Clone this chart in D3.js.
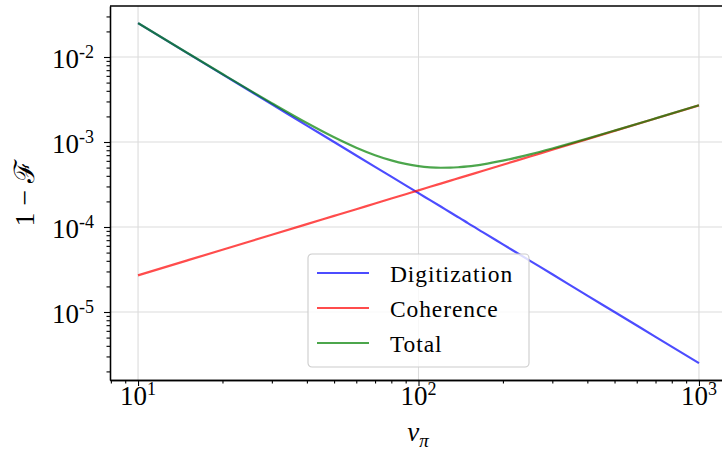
<!DOCTYPE html>
<html>
<head>
<meta charset="utf-8">
<script src="https://cdn.jsdelivr.net/npm/d3@7"></script>
<style>
  body { margin: 0; background: #fff; }
  svg { display: block; font-family: "Liberation Serif", "DejaVu Serif", serif; }
</style>
</head>
<body>
<div id="chart"></div>
<script>
// values (log-log)
var nu = [10, 15, 20, 30, 40, 50, 60, 70, 80, 90, 100, 110, 120, 130, 140, 150, 170, 200, 250, 300, 400, 500, 700, 1000];
var digitization = [2.5e-2, 1.11e-2, 6.25e-3, 2.78e-3, 1.56e-3, 1.0e-3, 6.94e-4, 5.10e-4, 3.91e-4, 3.09e-4, 2.5e-4, 2.07e-4, 1.74e-4, 1.48e-4, 1.28e-4, 1.11e-4, 8.65e-5, 6.25e-5, 4.0e-5, 2.78e-5, 1.56e-5, 1.0e-5, 5.10e-6, 2.5e-6];
var coherence = [2.7e-5, 4.05e-5, 5.4e-5, 8.1e-5, 1.08e-4, 1.35e-4, 1.62e-4, 1.89e-4, 2.16e-4, 2.43e-4, 2.7e-4, 2.97e-4, 3.24e-4, 3.51e-4, 3.78e-4, 4.05e-4, 4.59e-4, 5.4e-4, 6.75e-4, 8.1e-4, 1.08e-3, 1.35e-3, 1.89e-3, 2.7e-3];
var total = [2.503e-2, 1.114e-2, 6.30e-3, 2.86e-3, 1.67e-3, 1.135e-3, 8.56e-4, 6.99e-4, 6.07e-4, 5.52e-4, 5.20e-4, 5.04e-4, 4.98e-4, 4.99e-4, 5.06e-4, 5.16e-4, 5.46e-4, 6.03e-4, 7.15e-4, 8.38e-4, 1.096e-3, 1.36e-3, 1.895e-3, 2.7025e-3];

var seriesNames = ['Digitization', 'Coherence', 'Total'];
var seriesColors = ['rgba(0,0,255,0.7)', 'rgba(255,0,0,0.7)', 'rgba(0,128,0,0.7)'];

var xMajor = [1, 2, 3];     // exponents
var yMajor = [-5, -4, -3, -2];

(function () {
  var width = 722, height = 451;
  var mLeft = 110, mTop = 6, mBottom = 380, mRight = 727;

  var x = d3.scaleLog().domain([Math.pow(10, 0.9), Math.pow(10, 3.1)]).range([mLeft, mRight]);
  var y = d3.scaleLog().domain([Math.pow(10, -5.8), Math.pow(10, -1.4)]).range([mBottom, mTop]);

  var svg = d3.select('#chart').append('svg').attr('width', width).attr('height', height);

  svg.append('defs').append('clipPath').attr('id', 'plot')
    .append('rect').attr('x', mLeft).attr('y', mTop).attr('width', mRight - mLeft).attr('height', mBottom - mTop);

  // grid
  var grid = svg.append('g');
  xMajor.forEach(function (e) {
    var px = x(Math.pow(10, e));
    grid.append('line').attr('x1', px).attr('x2', px).attr('y1', mTop).attr('y2', mBottom)
      .attr('stroke', '#dcdcdc').attr('stroke-width', 1.1);
  });
  yMajor.forEach(function (e) {
    var py = y(Math.pow(10, e));
    grid.append('line').attr('x1', mLeft).attr('x2', mRight).attr('y1', py).attr('y2', py)
      .attr('stroke', '#dcdcdc').attr('stroke-width', 1.1);
  });

  // lines
  var data = [digitization, coherence, total];
  var line = d3.line()
    .x(function (d, i) { return x(nu[i]); })
    .y(function (d) { return y(d); })
    .curve(d3.curveMonotoneX);

  svg.append('g').attr('clip-path', 'url(#plot)').selectAll('path').data(data).enter().append('path')
    .attr('d', line)
    .attr('fill', 'none')
    .attr('stroke', function (d, i) { return seriesColors[i]; })
    .attr('stroke-width', 2.2);

  // minor tick values
  var xMinor = [], yMinor = [];
  for (var e = 0; e <= 3; e++) {
    for (var k = 2; k <= 9; k++) {
      var v = k * Math.pow(10, e);
      if (v >= x.domain()[0] && v <= x.domain()[1]) xMinor.push(v);
    }
  }
  for (var e2 = -6; e2 <= -2; e2++) {
    for (var k2 = 2; k2 <= 9; k2++) {
      var v2 = k2 * Math.pow(10, e2);
      if (v2 >= y.domain()[0] && v2 <= y.domain()[1]) yMinor.push(v2);
    }
  }

  // axes
  var xAxis = svg.append('g').attr('transform', 'translate(0,' + mBottom + ')');
  xAxis.call(d3.axisBottom(x).tickValues(xMajor.map(function (e) { return Math.pow(10, e); })).tickFormat('').tickSize(6).tickSizeOuter(0));
  xAxis.append('g').call(d3.axisBottom(x).tickValues(xMinor).tickFormat('').tickSize(3.5).tickSizeOuter(0));

  var yAxis = svg.append('g').attr('transform', 'translate(' + mLeft + ',0)');
  yAxis.call(d3.axisLeft(y).tickValues(yMajor.map(function (e) { return Math.pow(10, e); })).tickFormat('').tickSize(6).tickSizeOuter(0));
  yAxis.append('g').call(d3.axisLeft(y).tickValues(yMinor).tickFormat('').tickSize(3.5).tickSizeOuter(0));

  svg.selectAll('.domain').attr('stroke', '#000').attr('stroke-width', 1.3);
  svg.selectAll('.tick line').attr('stroke', '#000').attr('stroke-width', 1.1);

  // top spine
  svg.append('line').attr('x1', mLeft).attr('x2', mRight).attr('y1', mTop).attr('y2', mTop)
    .attr('stroke', '#000').attr('stroke-width', 1.3);

  // tick labels
  xMajor.forEach(function (e) {
    var t = svg.append('text').attr('x', x(Math.pow(10, e))).attr('y', 405)
      .attr('text-anchor', 'middle').attr('font-size', 27);
    t.append('tspan').text('10');
    t.append('tspan').attr('font-size', 18).attr('dy', -10).text(e);
  });
  yMajor.forEach(function (e) {
    var t = svg.append('text').attr('x', 94).attr('y', y(Math.pow(10, e)) + 10.5)
      .attr('text-anchor', 'end').attr('font-size', 27);
    t.append('tspan').text('10');
    t.append('tspan').attr('font-size', 18).attr('dy', -10).text('-' + (-e));
  });

  // axis labels
  var xl = svg.append('text').attr('x', 418).attr('y', 441).attr('text-anchor', 'middle').attr('font-size', 27);
  xl.append('tspan').attr('font-style', 'italic').text('ν');
  xl.append('tspan').attr('font-size', 19).attr('dy', 6).attr('font-style', 'italic').text('π');

  svg.append('text').attr('transform', 'translate(34,193) rotate(-90)').attr('text-anchor', 'middle')
    .attr('font-size', 28).text('1 − ℱ');

  // legend
  var legend = svg.append('g').attr('transform', 'translate(308,254)');
  legend.append('rect').attr('width', 221).attr('height', 113).attr('rx', 4)
    .attr('fill', 'rgba(255,255,255,0.8)').attr('stroke', '#cccccc').attr('stroke-width', 1.1);
  seriesNames.forEach(function (name, i) {
    var g = legend.append('g').attr('transform', 'translate(0,' + (19 + i * 35) + ')');
    g.append('line').attr('x1', 9).attr('x2', 61).attr('y1', 0).attr('y2', 0)
      .attr('stroke', seriesColors[i]).attr('stroke-width', 2.2);
    g.append('text').attr('x', 82).attr('y', 9).attr('font-size', 23.5)
      .attr('letter-spacing', 0.9).text(name);
  });
})();
</script>
</body>
</html>
